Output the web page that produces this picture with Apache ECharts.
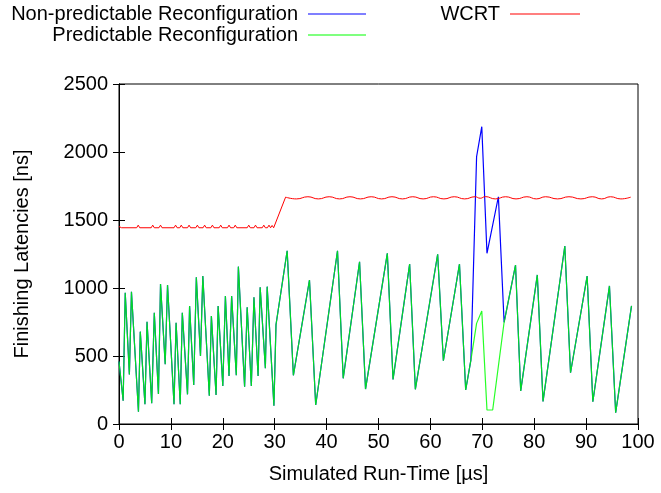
<!DOCTYPE html>
<html>
<head>
<meta charset="utf-8">
<script src="https://cdn.jsdelivr.net/npm/echarts@6/dist/echarts.min.js"></script>
<style>html,body{margin:0;padding:0;background:#fff}#c{width:661px;height:493px}</style>
</head>
<body>
<div id="c"></div>
<script>
// Simulated run-time samples [µs]
const runTime = [0,0.8,1.2,2.0,2.4,3.75,4.1,5.0,5.4,6.3,6.8,7.6,8.0,8.9,9.35,10.6,11.0,11.8,12.2,13.2,13.6,14.4,14.9,15.7,16.15,17.4,17.8,18.7,19.1,20.0,20.5,21.2,21.7,22.6,23.0,24.2,24.7,25.5,26.0,26.8,27.2,28.2,28.55,29.85,30.25,32.4,33.6,36.7,37.9,42.1,43.2,46.35,47.5,51.7,52.8,56.0,57.1,61.4,62.5,65.6,66.8,67.8,68.9,69.9,70.9,72.0,73.1,74.2,76.4,77.4,80.6,81.7,85.9,87.0,90.2,91.3,94.5,95.7,98.75];
// Finishing latencies [ns]
const predictable = [460,171,965,365,973,90,679,145,752,152,818,220,1029,439,1022,145,745,145,818,218,868,287,1079,500,1088,208,794,213,868,279,941,353,941,358,1157,274,858,279,932,353,1005,410,1010,135,730,1274,358,1059,140,1274,336,1193,257,1255,328,1176,255,1248,465,1176,250,470,740,831,103,103,null,748,1169,243,1096,166,1309,377,1088,164,1015,83,868];
const nonPredictable = [460,171,965,365,973,90,679,145,752,152,818,220,1029,439,1022,145,745,145,818,218,868,287,1079,500,1088,208,794,213,868,279,941,353,941,358,1157,274,858,279,932,353,1005,410,1010,135,730,1274,358,1059,140,1274,336,1193,257,1255,328,1176,255,1248,465,1176,250,470,1965,2186,1255,null,1671,748,1169,243,1096,166,1309,377,1088,164,1015,83,868];
// WCRT, first phase (before reconfiguration)
const wcrtTime1 = [0,0.5,3.4,3.7,4.0,6.2,6.5,6.8,7.7,8.0,8.3,10.6,10.9,11.2,11.7,12.0,12.3,13.2,13.5,13.8,14.8,15.1,15.4,16.2,16.5,16.8,17.7,18.0,18.3,19.3,19.6,19.9,20.9,21.2,21.5,22.1,22.4,22.7,24.7,25.0,25.3,26.0,26.3,26.6,27.6,27.9,28.2,28.6,28.9,29.2,29.5,29.8,32.1];
const wcrtValue1 = [1452,1443,1443,1462,1443,1443,1462,1443,1443,1462,1443,1443,1462,1443,1443,1462,1443,1443,1462,1443,1443,1462,1443,1443,1462,1443,1443,1462,1443,1443,1462,1443,1443,1462,1443,1443,1462,1443,1443,1462,1443,1443,1462,1443,1443,1462,1443,1443,1462,1443,1460,1443,1668];
// WCRT, second phase (after reconfiguration)
const wcrtTime2 = [32.1,34.2,36.4,38.4,40.5,42.5,44.5,46.5,48.6,50.6,52.6,54.6,56.6,58.6,60.6,62.6,64.6,66.6,68.6,69.6,70.6,72.5,74.5,76.5,78.6,80.4,82.2,84.5,86.7,89.0,91.2,93.0,94.7,96.7,98.6];
const wcrtValue2 = [1668,1655,1671,1655,1671,1655,1671,1655,1671,1655,1671,1655,1671,1655,1671,1655,1671,1655,1671,1660,1672,1655,1671,1655,1671,1655,1671,1655,1671,1655,1671,1655,1671,1655,1668];

const xTicks = [0,10,20,30,40,50,60,70,80,90,100];
const yTicks = [0,500,1000,1500,2000,2500];

const zip = (xs, ys) => xs.map((x, i) => [x, ys[i]]);
const FONT = 'Liberation Sans, Arial, sans-serif';
const txt = {color: '#000', fontFamily: FONT, fontSize: 20};

const chart = echarts.init(document.getElementById('c'), null, {renderer: 'canvas'});
chart.setOption({
  animation: false,
  backgroundColor: '#fff',
  grid: {left: 119, right: 23, top: 84, bottom: 69, show: true, borderColor: '#000', borderWidth: 1},
  legend: [
    {data: ['Non-predictable Reconfiguration'], right: 295, top: 4, align: 'right', icon: 'rect', itemWidth: 58, itemHeight: 1.2, padding: 0, textStyle: Object.assign({padding: [0, 5, 0, 0]}, txt), selectedMode: false},
    {data: ['Predictable Reconfiguration'], right: 295, top: 25, align: 'right', icon: 'rect', itemWidth: 58, itemHeight: 1.2, padding: 0, textStyle: Object.assign({padding: [0, 5, 0, 0]}, txt), selectedMode: false},
    {data: ['WCRT'], right: 81, top: 4, align: 'right', icon: 'rect', itemWidth: 70, itemHeight: 1.2, padding: 0, textStyle: Object.assign({padding: [0, 5, 0, 0]}, txt), selectedMode: false}
  ],
  xAxis: [
    {type: 'value', min: 0, max: 100, interval: 10, name: 'Simulated Run-Time [µs]', nameLocation: 'middle', nameGap: 40, nameTextStyle: txt,
     axisLine: {show: true, lineStyle: {color: '#000'}}, axisTick: {inside: true, length: 6, lineStyle: {color: '#000'}},
     axisLabel: Object.assign({margin: 8, formatter: v => xTicks.includes(v) ? String(v) : ''}, txt), splitLine: {show: false}},
    {type: 'value', min: 0, max: 100, interval: 10, position: 'top',
     axisLine: {show: true, lineStyle: {color: '#000'}}, axisTick: {inside: true, length: 6, lineStyle: {color: '#000'}},
     axisLabel: {show: false}, splitLine: {show: false}}
  ],
  yAxis: [
    {type: 'value', min: 0, max: 2500, interval: 500, name: 'Finishing Latencies [ns]', nameLocation: 'middle', nameGap: 87, nameTextStyle: txt,
     axisLine: {show: true, lineStyle: {color: '#000'}}, axisTick: {show: true, inside: true, length: 6, lineStyle: {color: '#000'}},
     axisLabel: Object.assign({margin: 11, formatter: v => yTicks.includes(v) ? String(v) : ''}, txt), splitLine: {show: false}},
    {type: 'value', min: 0, max: 2500, interval: 500, position: 'right',
     axisLine: {show: true, lineStyle: {color: '#000'}}, axisTick: {show: true, inside: true, length: 6, lineStyle: {color: '#000'}},
     axisLabel: {show: false}, splitLine: {show: false}}
  ],
  series: [
    {name: 'Non-predictable Reconfiguration', type: 'line', data: zip(runTime, nonPredictable), connectNulls: true, showSymbol: false, symbol: 'none',
     color: '#0000ff', lineStyle: {color: '#0000ff', width: 1.2}},
    {name: 'Predictable Reconfiguration', type: 'line', data: zip(runTime, predictable), connectNulls: true, showSymbol: false, symbol: 'none',
     color: '#00ff00', lineStyle: {color: '#00ff00', width: 1.2, opacity: 0.85}},
    {name: 'WCRT', type: 'line', data: zip(wcrtTime1, wcrtValue1), showSymbol: false, symbol: 'none',
     color: '#ff0000', lineStyle: {color: '#ff0000', width: 1}},
    {name: 'WCRT', type: 'line', data: zip(wcrtTime2, wcrtValue2), showSymbol: false, symbol: 'none', smooth: 0.5,
     color: '#ff0000', lineStyle: {color: '#ff0000', width: 1}}
  ]
});
</script>
</body>
</html>
